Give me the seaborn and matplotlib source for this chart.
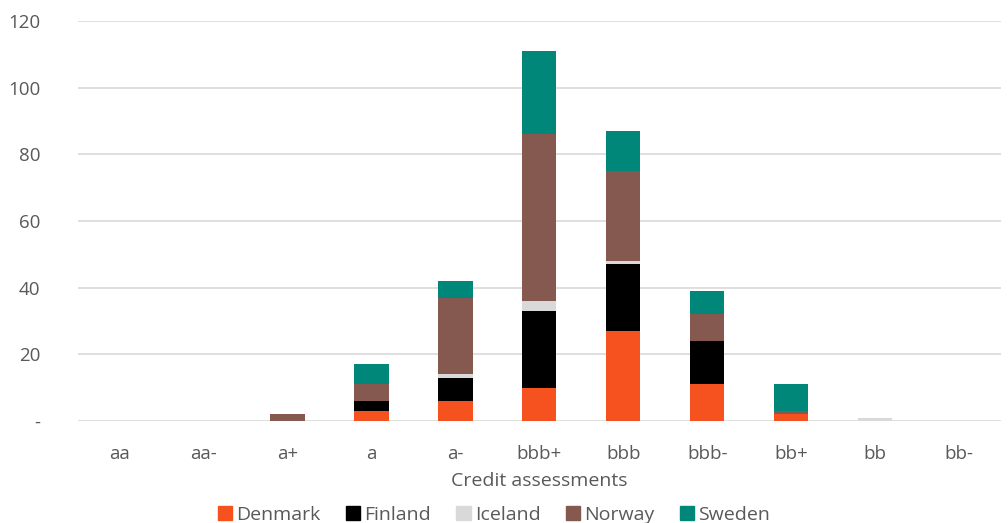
import matplotlib.pyplot as plt
import matplotlib.patches as mpatches
import pandas as pd
import seaborn as sns

ratings = ["aa", "aa-", "a+", "a", "a-", "bbb+", "bbb", "bbb-", "bb+", "bb", "bb-"]
denmark = [0, 0, 0, 3, 6, 10, 27, 11, 2, 0, 0]
finland = [0, 0, 0, 3, 7, 23, 20, 13, 0, 0, 0]
iceland = [0, 0, 0, 0, 1, 3, 1, 0, 0, 1, 0]
norway = [0, 0, 2, 5, 23, 50, 27, 8, 1, 0, 0]
sweden = [0, 0, 0, 6, 5, 25, 12, 7, 8, 0, 0]

countries = ["Denmark", "Finland", "Iceland", "Norway", "Sweden"]
colors = ["#F5521F", "#000000", "#D9D9D9", "#855950", "#00877A"]

df = pd.DataFrame(
    {"Denmark": denmark, "Finland": finland, "Iceland": iceland,
     "Norway": norway, "Sweden": sweden},
    index=ratings,
)
cum = df.cumsum(axis=1)

sns.set_style("white")
plt.rcParams["font.family"] = ["Open Sans", "DejaVu Sans"]
text_color = "#595959"

fig, ax = plt.subplots(figsize=(10.08, 5.23), dpi=100)
fig.subplots_adjust(left=0.077, right=0.993, top=0.96, bottom=0.195)

# draw tallest (cumulative) first so lower segments sit on top
for country, color in reversed(list(zip(countries, colors))):
    sns.barplot(x=ratings, y=cum[country].values, color=color, width=0.41,
                saturation=1, linewidth=0, ax=ax, zorder=3)

ax.set_ylim(0, 120)
ax.set_yticks(range(0, 121, 20))
ax.set_yticklabels(["-"] + [str(v) for v in range(20, 121, 20)])
ax.yaxis.grid(True, color="#D9D9D9", linewidth=1.2, zorder=0)
ax.set_axisbelow(True)
for side in ["top", "right", "left", "bottom"]:
    ax.spines[side].set_visible(False)
ax.tick_params(axis="both", length=0, labelsize=13.5, colors=text_color)
ax.tick_params(axis="x", pad=17)
ax.tick_params(axis="y", pad=27)
ax.set_xlabel("Credit assessments", fontsize=14, color=text_color, labelpad=7)
ax.set_ylabel("")

handles = [mpatches.Patch(color=c, label=n) for n, c in zip(countries, colors)]
fig.legend(handles=handles, loc="lower center", ncol=5, frameon=False,
           fontsize=14, labelcolor=text_color, handlelength=0.75, handleheight=0.75,
           handletextpad=0.2, columnspacing=1.3, bbox_to_anchor=(0.49, -0.035))

fig.savefig("out.png", dpi=100)
